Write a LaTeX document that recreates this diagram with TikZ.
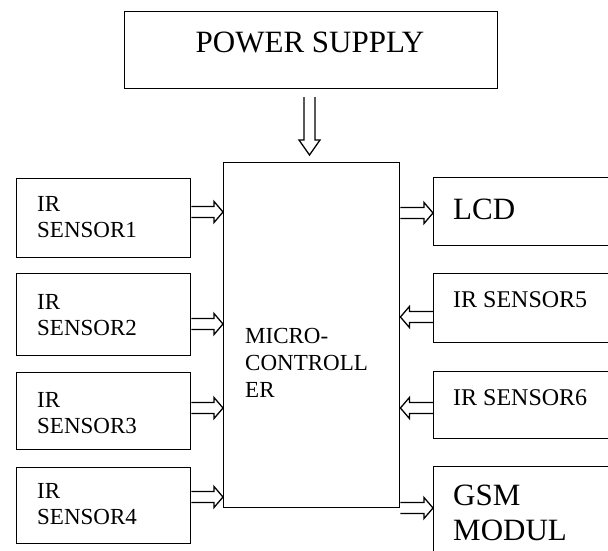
\documentclass[tikz,border=0pt]{standalone}
\usepackage{fontspec}
\setmainfont{Liberation Serif}
\usetikzlibrary{calc}
\tikzset{
  box/.style={draw, line width=1.4pt, rectangle, inner sep=0pt, anchor=north west},
  blockline/.style={line width=1.3pt, line join=miter},
  ltxt/.style={font=\fontsize{23}{26}\selectfont, align=left, inner sep=0pt, anchor=north west},
  mtxt/.style={font=\fontsize{23}{27}\selectfont, align=left, inner sep=0pt, anchor=north west},
  rtxt/.style={font=\fontsize{24}{27}\selectfont, inner sep=0pt, anchor=base west},
  btxt/.style={font=\fontsize{31}{35}\selectfont, align=left, inner sep=0pt},
}
\newcommand\hollowarr[3]{%
  \coordinate (ha-a) at (#1);
  \coordinate (ha-b) at (#2);
  \coordinate (ha-h) at ($(ha-b)!#3!(ha-a)$);
  \draw[blockline] ($(ha-a)!5.5pt!90:(ha-b)$) -- ($(ha-h)!5.5pt!90:(ha-b)$) -- ($(ha-h)!10.5pt!90:(ha-b)$) -- (ha-b) -- ($(ha-h)!10.5pt!-90:(ha-b)$) -- ($(ha-h)!5.5pt!-90:(ha-b)$) -- ($(ha-a)!5.5pt!-90:(ha-b)$);
}
\begin{document}
\begin{tikzpicture}[x=1pt, y=-1pt]
\useasboundingbox (0,0) rectangle (608,551);
\clip (0,0) rectangle (608,551);
\fill[white] (0,0) rectangle (608,551);

% boxes
\node[box, minimum width=373pt, minimum height=77pt] (ps) at (124,11) {};
\node[box, minimum width=176pt, minimum height=345pt] (mc) at (223,162) {};
\node[box, minimum width=174pt, minimum height=79pt] (ir1) at (16,178) {};
\node[box, minimum width=174pt, minimum height=82pt] (ir2) at (16,273) {};
\node[box, minimum width=174pt, minimum height=77pt] (ir3) at (16,372) {};
\node[box, minimum width=174pt, minimum height=76pt] (ir4) at (16,467) {};
\node[box, minimum width=200pt, minimum height=68pt] (lcd) at (433,177) {};
\node[box, minimum width=200pt, minimum height=69pt] (ir5) at (433,273) {};
\node[box, minimum width=200pt, minimum height=67pt] (ir6) at (433,371) {};
\node[box, minimum width=200pt, minimum height=100pt] (gsm) at (433,466) {};

% texts
\node[btxt, anchor=base] (pst) at (310,53) {POWER SUPPLY};
\node[mtxt] (mct) at (245,327.8) {MICRO-\\CONTROLL\\ER};
\node[ltxt] (ir1t) at (37,195.8) {IR\\SENSOR1};
\node[ltxt] (ir2t) at (37,293.8) {IR\\SENSOR2};
\node[ltxt] (ir3t) at (37,391.8) {IR\\SENSOR3};
\node[ltxt] (ir4t) at (37,482.8) {IR\\SENSOR4};
\node[btxt, anchor=base west] (lcdt) at (453,219) {LCD};
\node[rtxt] (ir5t) at (453,307) {IR SENSOR5};
\node[rtxt] (ir6t) at (453,405) {IR SENSOR6};
\node[btxt, anchor=north west] (gsmt) at (453,484.5) {GSM\\MODUL};

% arrow rows
\coordinate (y1) at (0,212);
\coordinate (y2) at (0,324);
\coordinate (y3) at (0,408);
\coordinate (y4) at (0,497);
\coordinate (y5) at (0,213);
\coordinate (y6) at (0,317);
\coordinate (y7) at (0,408);
\coordinate (y8) at (0,508);
\coordinate (pwa) at (309.5,97);
\coordinate (pwb) at (309.5,155);

% arrows
\hollowarr{pwa}{pwb}{15pt}
\hollowarr{ir1.east |- y1}{mc.west |- y1}{9pt}
\hollowarr{ir2.east |- y2}{mc.west |- y2}{9pt}
\hollowarr{ir3.east |- y3}{mc.west |- y3}{9pt}
\hollowarr{ir4.east |- y4}{mc.west |- y4}{9pt}
\hollowarr{mc.east |- y5}{lcd.west |- y5}{9pt}
\hollowarr{ir5.west |- y6}{mc.east |- y6}{9pt}
\hollowarr{ir6.west |- y7}{mc.east |- y7}{9pt}
\hollowarr{mc.east |- y8}{gsm.west |- y8}{9pt}
\end{tikzpicture}
\end{document}
